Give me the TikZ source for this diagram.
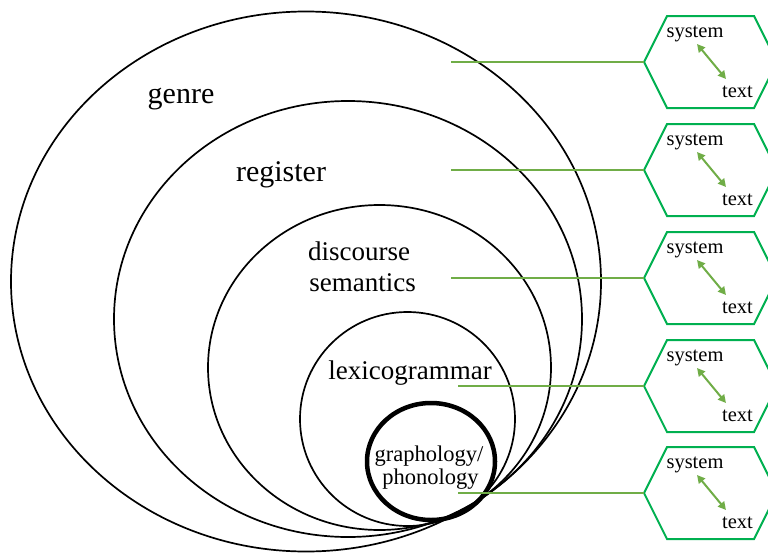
\documentclass[tikz,border=0pt]{standalone}
\usepackage{fontspec}
\setmainfont{Liberation Serif}
\usetikzlibrary{arrows.meta}
\definecolor{tiegreen}{HTML}{70AD47}
\definecolor{hexgreen}{HTML}{00B050}
\begin{document}
\begin{tikzpicture}[x=1pt,y=-1pt,
  ring/.style={draw=black,line width=1.7pt},
  corering/.style={draw=black,line width=4.5pt},
  biglabel/.style={inner sep=0pt,anchor=base,font=\fontsize{30}{34}\selectfont},
  midlabel/.style={inner sep=0pt,anchor=base,font=\fontsize{27}{31}\selectfont},
  corelabel/.style={inner sep=0pt,anchor=base,font=\fontsize{22.5}{26}\selectfont},
  smalllabel/.style={inner sep=0pt,anchor=base,font=\fontsize{20.5}{24}\selectfont},
  hexedge/.style={draw=hexgreen,line width=2pt,line join=miter},
  tie/.style={draw=tiegreen,line width=2pt},
  duo/.style={draw=tiegreen,line width=2pt,{Triangle[length=8pt,width=8pt]}-{Triangle[length=8pt,width=8pt]}}
]
\useasboundingbox (0,0) rectangle (768,554);
\begin{scope}
\clip (0,0) rectangle (768,554);

% nested strata
\draw[ring] (306,281.5) ellipse [x radius=295, y radius=270];
\draw[ring] (348,319) ellipse [x radius=234, y radius=218];
\draw[ring] (379.5,367.5) ellipse [x radius=171.5, y radius=162.5];
\draw[ring] (407.5,419) ellipse [x radius=107.5, y radius=107];
\draw[corering] (431,461.5) ellipse [x radius=64, y radius=58.5];

% stratum names
\node[biglabel] (genre) at (181,103) {genre};
\node[biglabel] (register) at (281,181.5) {register};
\node[midlabel] (discourse) at (359,260) {discourse};
\node[midlabel] (semantics) at (362.5,291.5) {semantics};
\node[midlabel] (lexgram) at (410,379.5) {lexicogrammar};
\node[corelabel] (grapho) at (429,461) {graphology/};
\node[corelabel] (phono) at (430.5,484.5) {phonology};

% system/text hexagons with their ties
\foreach \i/\y/\sx in {1/62/451, 2/170/451, 3/278/451, 4/386/458, 5/493/458} {
  \coordinate (tie\i) at (\sx,\y);
  \coordinate (hex\i) at (644,\y);
  \draw[hexedge] (hex\i) -- ++(23,-46) -- ++(87,0) -- ++(23,46) -- ++(-23,46) -- ++(-87,0) -- cycle;
  \node[smalllabel] (sys\i) at (695,\y-25) {system};
  \node[smalllabel] (txt\i) at (737.5,\y+35) {text};
  \coordinate (up\i) at (697,\y-18);
  \coordinate (dn\i) at (726,\y+17);
  \draw[duo] (up\i) -- (dn\i);
  \draw[tie] (tie\i) -- (hex\i);
}
\end{scope}
\end{tikzpicture}
\end{document}
